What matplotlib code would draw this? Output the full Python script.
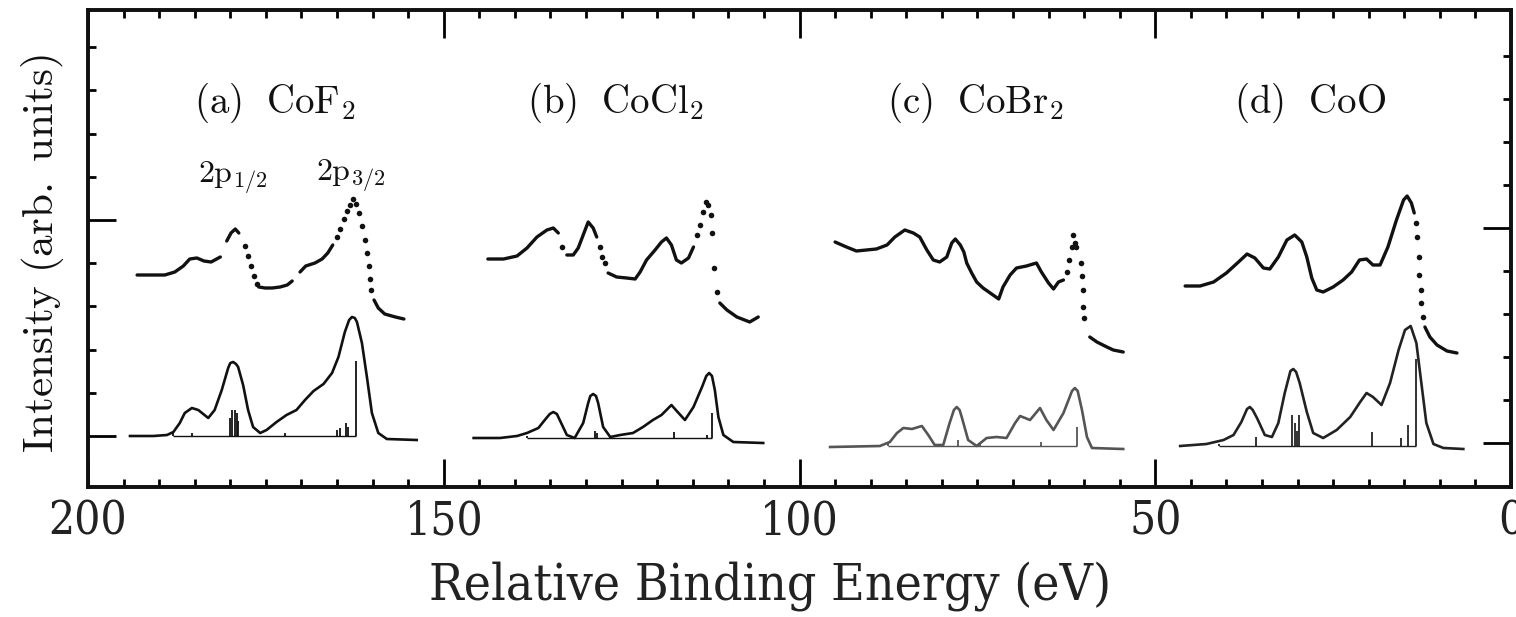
import numpy as np
import matplotlib.pyplot as plt
from matplotlib.ticker import MultipleLocator, FixedLocator

nan = np.nan

# ---- (a) CoF2 ----
cof2_line_e = [193.1, 191.3, 189.2, 187.8, 186.6, 185.7, 184.7, 183.7, 182.7, 181.4, nan,
               180.5, 179.9, 179.3, 178.8, nan,
               176.0, 175.1, 174.1, 173.0, 172.0, 171.3, nan,
               170.2, 169.4, 168.1, 167.1, 166.3, 165.6, nan,
               159.8, 159.2, 158.3, 156.8, 155.6]
cof2_line_i = [16.1, 16.1, 16.1, 16.4, 17.0, 17.7, 17.8, 17.5, 17.4, 17.9, nan,
               19.5, 20.3, 20.7, 20.3, nan,
               14.9, 14.8, 14.8, 14.9, 15.1, 15.5, nan,
               16.4, 17.0, 17.3, 17.7, 18.3, 19.1, nan,
               13.6, 12.8, 12.2, 11.9, 11.7]
cof2_dot_e = [177.9, 177.5, 177.1, 176.7, 176.2,
              165.0, 164.6, 164.0, 163.6, 163.2, 162.8, 162.3, 161.9, 161.5, 161.1, 160.8,
              160.5, 160.4, 160.2]
cof2_dot_i = [19.0, 18.0, 17.0, 16.0, 15.2,
              19.9, 20.7, 21.7, 22.5, 23.1, 23.7, 23.2, 22.3, 21.0, 19.6, 18.3,
              17.0, 15.7, 14.6]
cof2_th_e = [194.1, 190.8, 188.9, 188.0, 187.1, 186.4, 185.4, 184.5, 183.1, 182.2, 181.2,
             180.3, 180.0, 179.6, 179.2, 178.9, 178.2, 177.5, 176.8, 175.8, 174.9, 173.5,
             172.1, 170.7, 169.5, 168.3, 166.9, 165.7, 164.8, 163.9, 163.3, 162.9, 162.5,
             162.2, 161.5, 160.8, 160.1, 159.2, 158.0, 153.8]
cof2_th_i = [0.0, 0.0, 0.1, 0.4, 1.3, 2.3, 2.8, 2.6, 1.8, 2.6, 4.6,
             6.8, 7.3, 7.4, 7.2, 6.9, 5.1, 2.6, 0.9, 0.3, 0.6, 1.4,
             2.1, 2.6, 3.6, 4.5, 5.2, 6.3, 7.9, 10.4, 11.6, 11.9, 11.8,
             11.4, 9.3, 5.9, 2.3, 0.3, -0.3, -0.4]
cof2_stick_e = [188.0, 185.4, 180.0, 179.7, 179.4, 179.1, 178.9, 172.3, 165.0, 164.6, 163.8, 163.5, 162.3]
cof2_stick_i = [0.4, 0.3, 1.8, 2.6, 2.6, 2.3, 1.5, 0.3, 0.6, 0.8, 1.3, 0.9, 7.5]
cof2_base = 0.0

# ---- (b) CoCl2 ----
cocl2_line_e = [143.8, 141.6, 139.7, 138.3, 136.9, 135.5, 134.6, 133.9, nan,
                132.7, 131.8, 131.1, 130.4, 129.7, 129.0, 128.5, nan,
                126.9, 125.7, 124.3, 123.1, 122.4, 121.5, 120.3, 119.4, 118.7, 118.0,
                117.3, 116.6, 115.6, 114.9, nan,
                111.2, 110.2, 108.8, 107.0, 105.8]
cocl2_line_i = [17.7, 17.7, 18.0, 18.8, 19.9, 20.6, 20.8, 20.3, nan,
                18.1, 18.1, 18.8, 20.1, 21.4, 20.8, 19.9, nan,
                16.3, 15.9, 15.8, 15.7, 16.4, 17.6, 18.6, 19.4, 19.8, 19.1,
                17.6, 17.3, 17.8, 18.9, nan,
                13.3, 12.6, 11.9, 11.4, 11.9]
cocl2_dot_e = [133.4, 128.0, 127.7, 127.3,
               114.4, 114.0, 113.5, 113.1, 112.8, 112.5, 112.3, 112.0, 111.6]
cocl2_dot_i = [18.9, 18.9, 17.9, 17.3,
               20.1, 21.1, 22.4, 23.4, 23.1, 22.1, 20.3, 16.8, 14.4]
cocl2_th_e = [145.8, 142.1, 139.7, 138.3, 136.7, 135.8, 135.1, 134.6, 134.1, 133.7, 132.7,
              131.6, 130.4, 129.7, 129.4, 129.0, 128.6, 128.3, 127.6, 126.6, 125.2, 123.4,
              122.0, 120.6, 119.4, 118.0, 117.0, 116.1, 114.9, 113.7, 113.1, 112.7, 112.3,
              111.9, 111.4, 110.7, 109.3, 105.1]
cocl2_th_i = [-0.2, -0.2, 0.0, 0.3, 0.8, 1.6, 2.2, 2.4, 2.2, 1.6, 0.1,
              -0.2, 1.3, 3.3, 4.0, 4.2, 4.0, 3.3, 0.9, -0.1, 0.1, 0.3,
              0.9, 1.6, 2.1, 3.1, 2.3, 1.6, 2.9, 4.9, 6.0, 6.3, 6.0,
              4.6, 1.9, 0.1, -0.6, -0.7]
cocl2_stick_e = [138.3, 128.7, 128.4, 117.7, 113.0, 112.3]
cocl2_stick_i = [0.0, 0.5, 0.3, 0.4, 0.1, 2.3]
cocl2_base = -0.2

# ---- (c) CoBr2 ----
cobr2_line_e = [95.0, 93.4, 92.0, 90.6, 89.2, 87.7, 86.6, 85.2, 84.0, 83.1, 82.1, 81.2, 80.3,
                79.3, 78.6, 78.1, 77.4, 76.9, 76.5, 75.8, 75.1, 74.2, 73.2, 72.0, 71.4, 70.4,
                69.5, 68.1, 66.7, 66.0, 65.0, 64.3, 63.6, 62.9, nan,
                59.2, 58.2, 56.8, 55.9, 54.5]
cobr2_line_i = [19.4, 18.9, 18.5, 18.6, 18.7, 19.1, 19.9, 20.6, 20.3, 19.9, 18.6, 17.6, 17.4,
                17.9, 19.3, 19.7, 19.1, 18.4, 17.3, 16.3, 15.4, 14.8, 14.3, 13.7, 14.9, 16.1,
                16.8, 17.0, 17.3, 16.4, 15.3, 14.7, 15.4, 15.6, nan,
                9.9, 9.4, 8.9, 8.6, 8.4]
cobr2_dot_e = [62.4, 62.1, 61.7, 61.5, 61.3, 61.1, 60.4, 60.3, 60.2, 60.1, 60.0]
cobr2_dot_i = [16.4, 17.6, 18.9, 20.1, 19.3, 18.9, 17.3, 16.0, 14.6, 12.9, 11.8]
cobr2_th_e = [95.7, 88.7, 87.3, 86.3, 85.4, 84.2, 82.8, 81.9, 81.0, 79.8, 78.9, 78.3, 77.9,
              77.5, 77.2, 76.3, 75.1, 73.7, 72.3, 70.9, 69.7, 69.0, 67.6, 66.2, 65.3, 64.3,
              62.9, 61.7, 61.3, 60.9, 60.3, 59.6, 58.9, 54.5]
cobr2_th_i = [-1.1, -1.0, -0.6, 0.3, 0.8, 0.7, 1.0, 0.1, -0.9, -0.9, 1.3, 2.6, 2.9,
              2.6, 1.9, -0.4, -1.0, -0.2, -0.1, -0.2, 1.3, 2.0, 1.6, 2.8, 1.6, 0.6,
              2.3, 4.5, 4.8, 4.5, 2.6, -0.1, -1.2, -1.3]
cobr2_stick_e = [87.6, 77.7, 74.6, 66.0, 61.0]
cobr2_stick_i = [-0.7, -0.4, -0.7, -0.6, 0.9]
cobr2_base = -1.0

# ---- (d) CoO ----
coo_line_e = [45.8, 43.7, 41.8, 40.0, 38.3, 37.1, 36.0, 34.8, 33.9, 32.7, 31.5, 30.4, 29.4,
              28.7, 28.0, 27.3, 26.4, 25.0, 23.6, 22.4, 21.3, 20.3, 19.4, 18.4, 17.3, 16.1,
              15.1, 14.6, 14.0, 13.6, nan,
              12.1, 11.4, 10.4, 9.0, 7.6]
coo_line_i = [15.0, 15.0, 15.4, 16.3, 17.4, 18.2, 17.8, 16.8, 16.7, 17.9, 19.6, 20.1, 19.4,
              17.9, 15.8, 14.6, 14.4, 14.9, 15.6, 16.4, 17.6, 17.7, 17.1, 17.1, 18.9, 21.6,
              23.6, 24.0, 23.3, 22.3, nan,
              10.9, 9.9, 9.1, 8.5, 8.3]
coo_dot_e = [13.4, 13.2, 13.0, 12.9, 12.7, 12.6, 12.4]
coo_dot_i = [21.3, 19.9, 17.9, 16.1, 14.6, 13.3, 11.9]
coo_th_e = [46.5, 42.8, 40.4, 39.0, 37.9, 37.1, 36.7, 36.3, 35.7, 34.6, 33.6, 32.7, 31.8,
            31.0, 30.6, 30.2, 29.7, 28.7, 27.8, 26.4, 24.5, 22.6, 21.2, 20.3, 19.4, 18.2,
            17.0, 15.8, 14.9, 14.1, 13.3, 12.6, 11.9, 10.9, 9.5, 6.7]
coo_th_i = [-1.0, -0.8, -0.4, 0.1, 1.4, 2.7, 2.9, 2.6, 1.8, 0.1, -0.1, 1.3, 4.3,
            6.5, 6.7, 6.4, 5.3, 2.4, 0.3, -0.2, 0.6, 1.9, 3.4, 4.3, 3.9, 3.1,
            5.3, 8.6, 10.6, 11.0, 9.3, 5.3, 1.3, -0.8, -1.2, -1.3]
coo_stick_e = [41.0, 35.8, 30.8, 30.4, 30.1, 29.8, 19.6, 15.4, 14.5, 13.4]
coo_stick_i = [-0.8, -0.1, 2.1, 1.3, 0.5, 2.1, 0.4, -0.2, 1.1, 7.7]
coo_base = -1.0

panel_labels = [r'$\mathrm{(a)\ \ CoF_2}$', r'$\mathrm{(b)\ \ CoCl_2}$',
                r'$\mathrm{(c)\ \ CoBr_2}$', r'$\mathrm{(d)\ \ CoO}$']
panel_label_e = [173.7, 125.8, 75.3, 28.2]

plt.rcParams['mathtext.fontset'] = 'cm'

fig = plt.figure(figsize=(15.16, 6.17), dpi=100)
ax = fig.add_axes([88 / 1516, 130 / 617, 1423 / 1516, 477 / 617])

ink = '#111111'


def draw(line_e, line_i, dot_e, dot_i, th_e, th_i, st_e, st_i, base, th_col):
    ax.plot(line_e, line_i, color=ink, lw=2.4, solid_capstyle='round')
    ax.plot(dot_e, dot_i, 'o', color=ink, ms=4, mew=0)
    ax.plot(th_e, th_i, color=th_col, lw=1.9)
    ax.vlines(st_e, base, st_i, color=th_col, lw=1.3)
    ax.hlines(base, min(st_e), max(st_e), color=th_col, lw=1.0)


draw(cof2_line_e, cof2_line_i, cof2_dot_e, cof2_dot_i, cof2_th_e, cof2_th_i,
     cof2_stick_e, cof2_stick_i, cof2_base, ink)
draw(cocl2_line_e, cocl2_line_i, cocl2_dot_e, cocl2_dot_i, cocl2_th_e, cocl2_th_i,
     cocl2_stick_e, cocl2_stick_i, cocl2_base, ink)
draw(cobr2_line_e, cobr2_line_i, cobr2_dot_e, cobr2_dot_i, cobr2_th_e, cobr2_th_i,
     cobr2_stick_e, cobr2_stick_i, cobr2_base, '#555555')
draw(coo_line_e, coo_line_i, coo_dot_e, coo_dot_i, coo_th_e, coo_th_i,
     coo_stick_e, coo_stick_i, coo_base, '#222222')

for lab, e in zip(panel_labels, panel_label_e):
    ax.text(e, 33.3, lab, fontsize=28, ha='center', va='center', color=ink)
ax.text(179.7, 25.8, r'$\mathrm{2p_{1/2}}$', fontsize=23, ha='center', va='center', color=ink)
ax.text(163.0, 26.0, r'$\mathrm{2p_{3/2}}$', fontsize=23, ha='center', va='center', color=ink)

ax.set_xlim(200, 0)
ax.set_ylim(-5.1, 42.6)
ax.xaxis.set_major_locator(MultipleLocator(50))
ax.xaxis.set_minor_locator(MultipleLocator(5))
ax.yaxis.set_major_locator(FixedLocator([0, 21.6]))
ax.yaxis.set_minor_locator(FixedLocator([4.32 * k for k in range(1, 10) if k != 5]))
ax.tick_params(axis='x', which='both', direction='in', top=True, bottom=True, width=2, pad=9)
ax.tick_params(axis='x', which='major', length=20)
ax.tick_params(axis='x', which='minor', length=6)
ax.tick_params(axis='y', which='both', direction='in', left=True, right=False,
               labelleft=False, width=2)
ax.tick_params(axis='y', which='major', length=20)
ax.tick_params(axis='y', which='minor', length=6)

axr = ax.twinx()
axr.set_ylim(-5.1, 42.6)
axr.yaxis.set_major_locator(FixedLocator([-0.7, 20.8]))
axr.yaxis.set_minor_locator(FixedLocator([-0.7 + 4.3 * k for k in range(1, 10) if k != 5]))
axr.tick_params(axis='y', which='both', direction='in', labelright=False, width=2)
axr.tick_params(axis='y', which='major', length=20)
axr.tick_params(axis='y', which='minor', length=6)

for sp in list(ax.spines.values()) + list(axr.spines.values()):
    sp.set_linewidth(2.6)
    sp.set_color(ink)

for lbl in ax.get_xticklabels():
    lbl.set_fontfamily('DejaVu Serif')
    lbl.set_fontstretch('condensed')
    lbl.set_fontsize(33)
    lbl.set_color('#222222')

ax.set_xlabel('Relative Binding Energy (eV)', fontfamily='DejaVu Serif',
              fontstretch='condensed', fontsize=37, color='#222222', va='center')
ax.xaxis.set_label_coords((770 - 88) / 1423, (487 - 586) / 477)
ax.set_ylabel(r'$\mathrm{Intensity\ (arb.\ units)}$', fontsize=31, color=ink, va='center')
ax.yaxis.set_label_coords((43 - 88) / 1423, (487 - 253) / 477)

fig.savefig('out.png', dpi=100, facecolor='white')
